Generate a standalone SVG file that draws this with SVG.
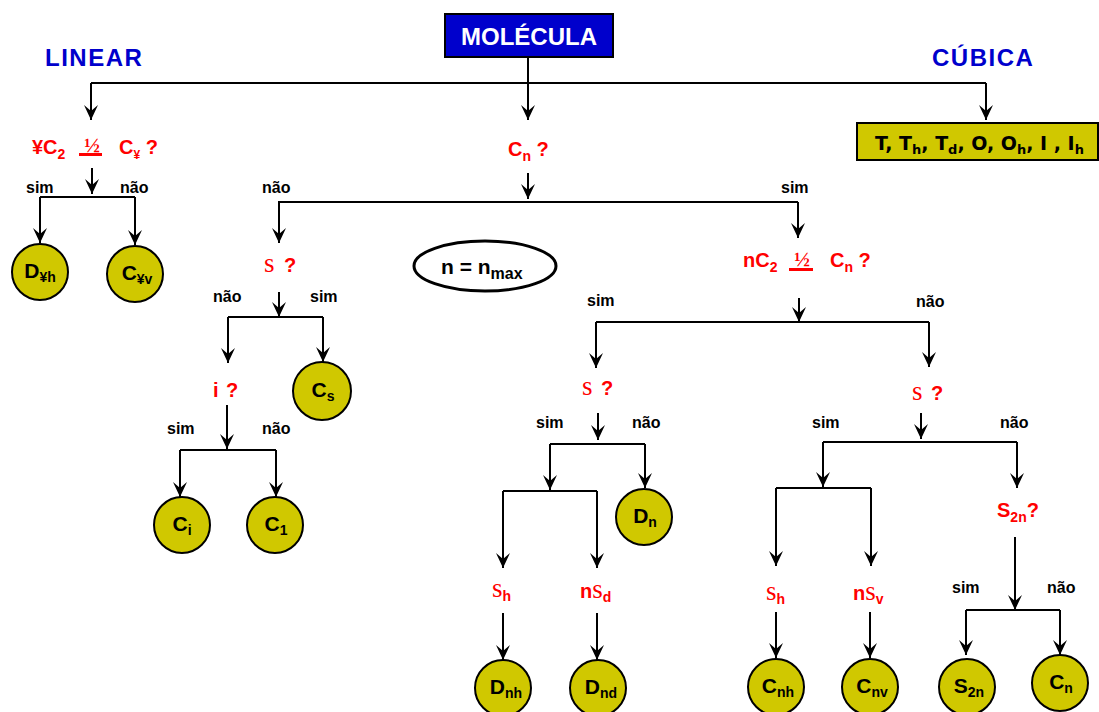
<svg xmlns="http://www.w3.org/2000/svg" width="1099" height="712" viewBox="0 0 1099 712">
<style>
.ln{fill:none;stroke:#000;stroke-width:2}
.ar{fill:none;stroke:#000;stroke-width:2;marker-end:url(#ah)}
.nd{fill:#D0C800;stroke:#000;stroke-width:2}
.t{font-family:"Liberation Sans",Arial,sans-serif;font-weight:bold}
.lab{font-family:"Liberation Sans",Arial,sans-serif;font-weight:bold;font-size:16px;fill:#000}
.q{font-family:"Liberation Sans",Arial,sans-serif;font-weight:bold;font-size:20px;fill:#F00}
.sg{font-family:"Liberation Serif","Times New Roman",serif;font-weight:normal;font-size:27px;fill:#F00}
.fr{font-family:"Liberation Serif","Times New Roman",serif;font-weight:bold;font-size:21px;fill:#F00}
.cl{font-family:"Liberation Sans",Arial,sans-serif;font-weight:bold;font-size:21px;fill:#000}
.sub{font-size:14px}
.hd{font-family:"Liberation Sans",Arial,sans-serif;font-weight:bold;font-size:24px;fill:#0000CC;letter-spacing:1.5px}
</style>
<defs>
<marker id="ah" viewBox="-15 -8 16 16" refX="0" refY="0" markerWidth="16" markerHeight="16" markerUnits="userSpaceOnUse" orient="auto">
<path d="M-15,-7 L0,0 L-15,7 L-9,0 z" fill="#000"/>
</marker>
</defs>
<rect width="1099" height="712" fill="#fff"/>

<g id="connectors">
<path class="ln" d="M91,83 H986"/>
<path class="ar" d="M528,57 V120"/>
<path class="ar" d="M91,83 V120"/>
<path class="ar" d="M986,83 V120"/>
<path class="ar" d="M92,168 V194"/>
<path class="ln" d="M40,197 H135"/>
<path class="ar" d="M40,197 V243"/>
<path class="ar" d="M135,197 V245"/>
<path class="ar" d="M528,173 V199"/>
<path class="ln" d="M278,202 H798"/>
<path class="ar" d="M279,202 V243"/>
<path class="ar" d="M798,202 V238"/>
<path class="ar" d="M279,292 V317"/>
<path class="ln" d="M228,317 H323"/>
<path class="ar" d="M228,317 V363"/>
<path class="ar" d="M323,317 V362"/>
<path class="ar" d="M227,405 V449"/>
<path class="ln" d="M180,450 H276"/>
<path class="ar" d="M180,450 V497"/>
<path class="ar" d="M276,450 V497"/>
<path class="ar" d="M799,298 V322"/>
<path class="ln" d="M596,322 H929"/>
<path class="ar" d="M596,322 V368"/>
<path class="ar" d="M929,322 V367"/>
<path class="ar" d="M598,413 V440"/>
<path class="ln" d="M550,444 H645"/>
<path class="ar" d="M550,444 V490"/>
<path class="ar" d="M645,444 V488"/>
<path class="ln" d="M503,491 H597"/>
<path class="ar" d="M503,491 V568"/>
<path class="ar" d="M597,491 V568"/>
<path class="ar" d="M503,613 V660"/>
<path class="ar" d="M597,613 V660"/>
<path class="ar" d="M921,413 V439"/>
<path class="ln" d="M823,442 H1017"/>
<path class="ar" d="M823,442 V487"/>
<path class="ar" d="M1017,442 V488"/>
<path class="ln" d="M776,488 H871"/>
<path class="ar" d="M776,488 V566"/>
<path class="ar" d="M871,488 V566"/>
<path class="ar" d="M776,612 V658"/>
<path class="ar" d="M870,612 V658"/>
<path class="ar" d="M1015,537 V610"/>
<path class="ln" d="M966,610 H1060"/>
<path class="ar" d="M966,610 V655"/>
<path class="ar" d="M1060,610 V655"/>
</g>

<g id="edge-labels">
<text class="lab" x="26" y="193">sim</text>
<text class="lab" x="120" y="193">não</text>
<text class="lab" x="262" y="193">não</text>
<text class="lab" x="781" y="193">sim</text>
<text class="lab" x="213" y="302">não</text>
<text class="lab" x="310" y="302">sim</text>
<text class="lab" x="167" y="434">sim</text>
<text class="lab" x="262" y="434">não</text>
<text class="lab" x="587" y="306">sim</text>
<text class="lab" x="916" y="307">não</text>
<text class="lab" x="536" y="428">sim</text>
<text class="lab" x="632" y="428">não</text>
<text class="lab" x="812" y="428">sim</text>
<text class="lab" x="1000" y="428">não</text>
<text class="lab" x="952" y="593">sim</text>
<text class="lab" x="1047" y="593">não</text>
</g>

<g id="molecula">
<rect x="445" y="14" width="168" height="43" fill="#0000CC" stroke="#000" stroke-width="2"/>
<text class="t" x="529" y="45" font-size="24" fill="#fff" text-anchor="middle">MOLÉCULA</text>
</g>
<g id="linear-label"><text class="hd" x="45" y="66">LINEAR</text></g>
<g id="cubica-label"><text class="hd" x="932" y="66">CÚBICA</text></g>

<g id="cubic-groups">
<rect x="857" y="123" width="241" height="37" fill="#D0C800" stroke="#000" stroke-width="2"/>
<text x="875" y="150" font-family="'DejaVu Sans',Verdana,sans-serif" font-weight="bold" font-size="19" fill="#000">T, T<tspan font-size="13" dy="4">h</tspan><tspan dy="-4">, T</tspan><tspan font-size="13" dy="4">d</tspan><tspan dy="-4">, O, O</tspan><tspan font-size="13" dy="4">h</tspan><tspan dy="-4">, I , I</tspan><tspan font-size="13" dy="4">h</tspan></text>
</g>

<g id="q-linear">
<text class="q" x="32" y="154">¥C<tspan class="sub" dy="5">2</tspan></text>
<text class="fr" x="92" y="152" text-anchor="middle">½</text>
<rect x="79" y="153" width="23" height="3" fill="#F00"/>
<text class="q" x="119" y="154">C<tspan font-size="12" dy="5">¥</tspan><tspan dy="-5"> ?</tspan></text>
</g>

<g id="q-cn">
<text class="q" x="508" y="156">C<tspan class="sub" dy="5">n</tspan><tspan dy="-5"> ?</tspan></text>
</g>

<g id="n-max">
<ellipse cx="485" cy="266" rx="71" ry="25" fill="none" stroke="#000" stroke-width="3"/>
<text class="cl" x="441" y="274" font-size="24">n = n<tspan font-size="16" dy="5">max</tspan></text>
</g>

<g id="q-sigma-left">
<text class="sg" x="264" y="272">s</text><text class="q" x="284" y="272">?</text>
</g>

<g id="q-i">
<text class="q" x="213" y="397">i</text><text class="q" x="226" y="397">?</text>
</g>

<g id="q-nc2">
<text class="q" x="743" y="267">nC<tspan class="sub" dy="5">2</tspan></text>
<text class="fr" x="802" y="266" text-anchor="middle">½</text>
<rect x="789" y="268" width="24" height="3" fill="#F00"/>
<text class="q" x="830" y="267">C<tspan class="sub" dy="5">n</tspan><tspan dy="-5"> ?</tspan></text>
</g>

<g id="q-sigma-mid">
<text class="sg" x="582" y="395">s</text><text class="q" x="601" y="395">?</text>
</g>

<g id="q-sigma-right">
<text class="sg" x="912" y="400">s</text><text class="q" x="931" y="400">?</text>
</g>

<g id="q-s2n">
<text class="q" x="997" y="517">S<tspan class="sub" dy="5">2n</tspan><tspan dy="-5">?</tspan></text>
</g>

<g id="q-sh-mid">
<text class="sg" x="492" y="597">s<tspan class="q sub" dy="4">h</tspan></text>
</g>
<g id="q-nsd">
<text class="q" x="580" y="598">n<tspan class="sg">s</tspan><tspan class="sub" dy="4">d</tspan></text>
</g>
<g id="q-sh-right">
<text class="sg" x="766" y="600">s<tspan class="q sub" dy="4">h</tspan></text>
</g>
<g id="q-nsv">
<text class="q" x="853" y="600">n<tspan class="sg">s</tspan><tspan class="sub" dy="4">v</tspan></text>
</g>

<g id="D-inf-h"><circle class="nd" cx="40" cy="272" r="28"/><text class="cl" x="40" y="278" text-anchor="middle">D<tspan class="sub" dy="4">¥h</tspan></text></g>
<g id="C-inf-v"><circle class="nd" cx="135" cy="274" r="28"/><text class="cl" x="137" y="280" text-anchor="middle">C<tspan class="sub" dy="4">¥v</tspan></text></g>
<g id="Cs"><circle class="nd" cx="322" cy="391" r="29"/><text class="cl" x="323" y="397" text-anchor="middle">C<tspan class="sub" dy="4">s</tspan></text></g>
<g id="Ci"><circle class="nd" cx="182" cy="525" r="28"/><text class="cl" x="182" y="531" text-anchor="middle">C<tspan class="sub" dy="4">i</tspan></text></g>
<g id="C1"><circle class="nd" cx="275" cy="525" r="28"/><text class="cl" x="276" y="531" text-anchor="middle">C<tspan class="sub" dy="4">1</tspan></text></g>
<g id="Dn"><circle class="nd" cx="644" cy="517" r="28"/><text class="cl" x="645" y="523" text-anchor="middle">D<tspan class="sub" dy="4">n</tspan></text></g>
<g id="Dnh"><circle class="nd" cx="503" cy="688" r="28"/><text class="cl" x="506" y="694" text-anchor="middle">D<tspan class="sub" dy="4">nh</tspan></text></g>
<g id="Dnd"><circle class="nd" cx="598" cy="688" r="28"/><text class="cl" x="601" y="694" text-anchor="middle">D<tspan class="sub" dy="4">nd</tspan></text></g>
<g id="Cnh"><circle class="nd" cx="776" cy="687" r="28"/><text class="cl" x="778" y="693" text-anchor="middle">C<tspan class="sub" dy="4">nh</tspan></text></g>
<g id="Cnv"><circle class="nd" cx="870" cy="687" r="28"/><text class="cl" x="872" y="693" text-anchor="middle">C<tspan class="sub" dy="4">nv</tspan></text></g>
<g id="S2n"><circle class="nd" cx="967" cy="687" r="28"/><text class="cl" x="969" y="693" text-anchor="middle">S<tspan class="sub" dy="4">2n</tspan></text></g>
<g id="Cn"><circle class="nd" cx="1060" cy="683" r="28"/><text class="cl" x="1061" y="689" text-anchor="middle">C<tspan class="sub" dy="4">n</tspan></text></g>
</svg>
